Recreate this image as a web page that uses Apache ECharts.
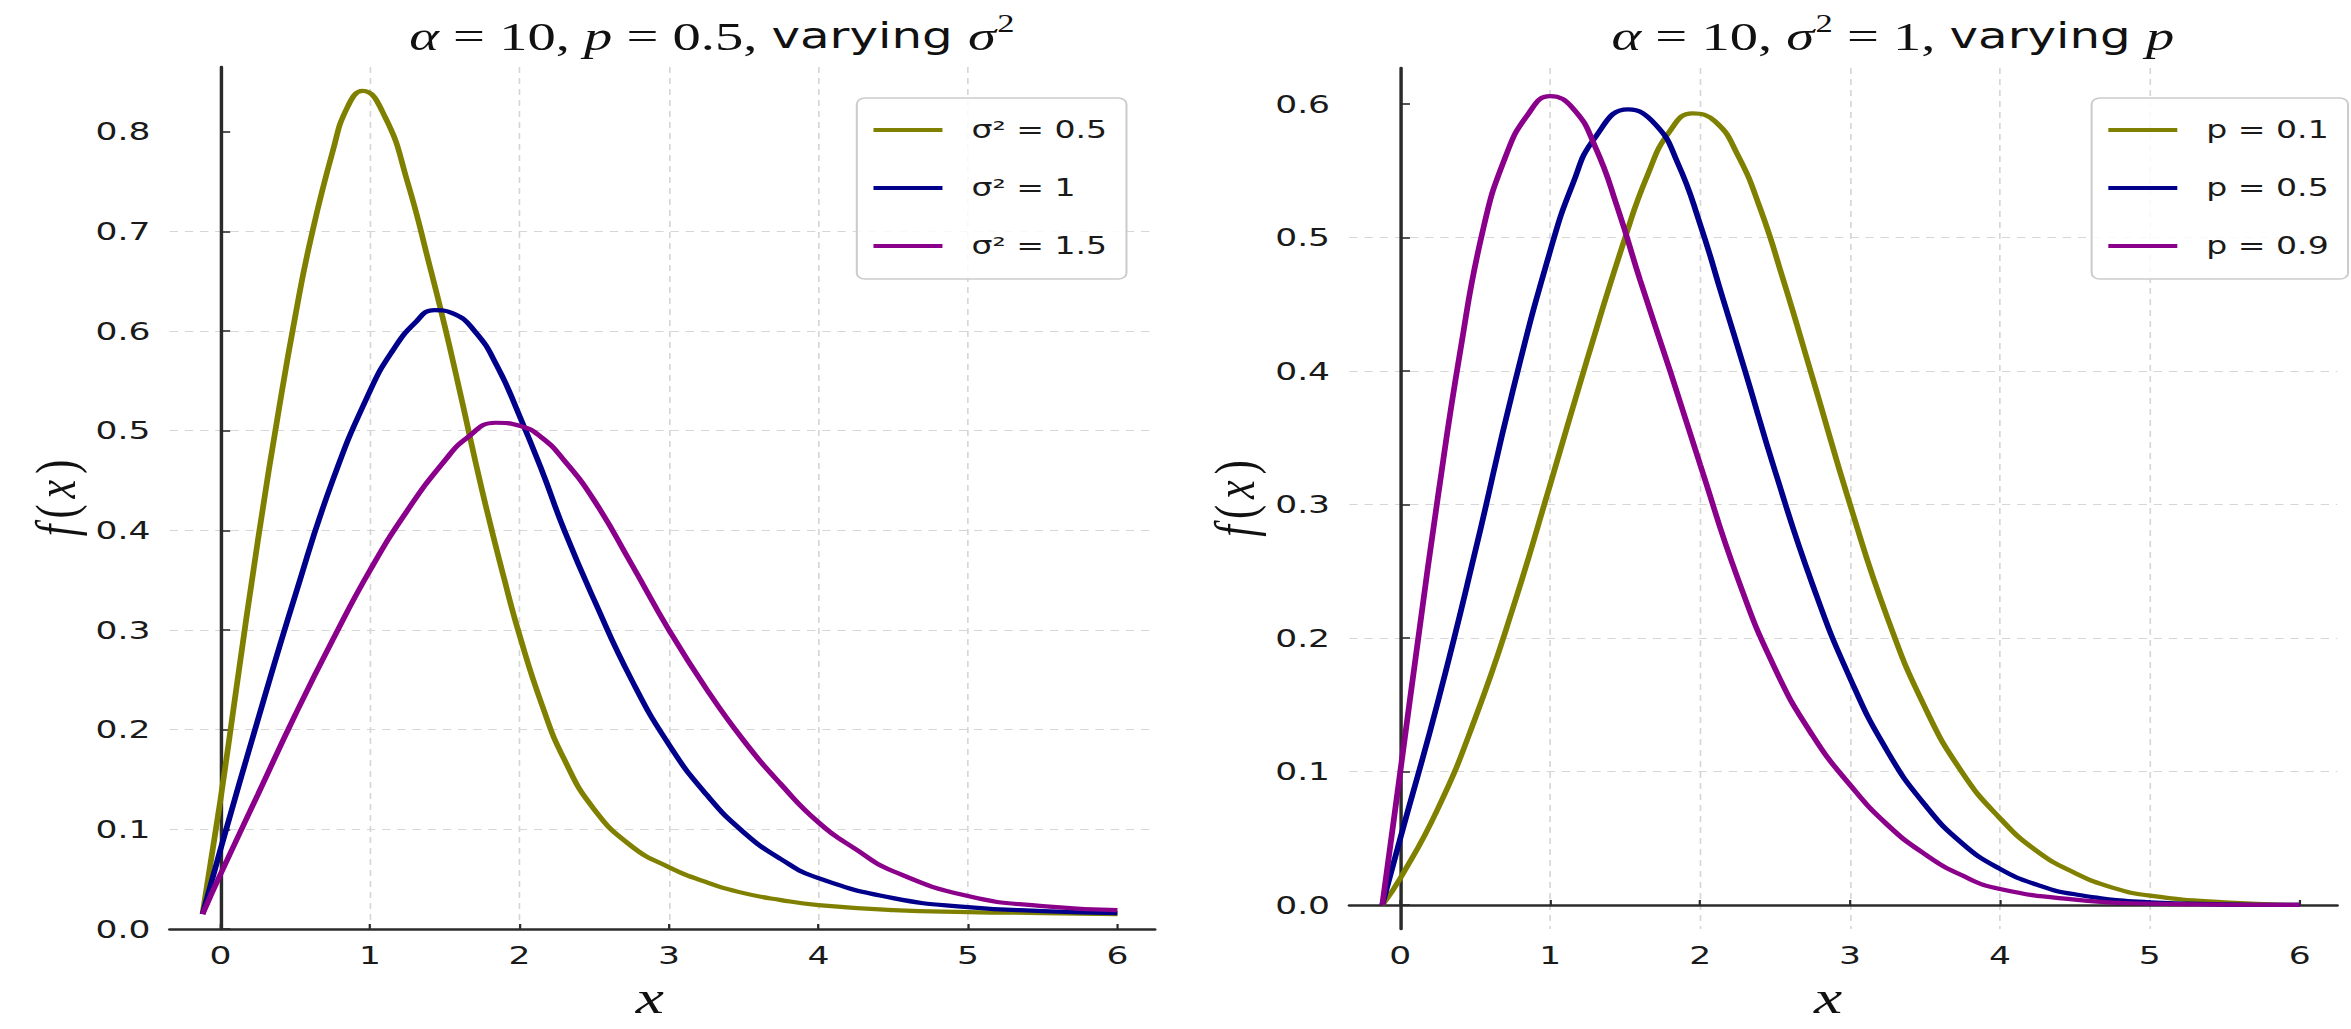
<!DOCTYPE html>
<html>
<head>
<meta charset="utf-8">
<script src="https://cdn.jsdelivr.net/npm/echarts@6/dist/echarts.min.js"></script>
<style>
html, body { margin: 0; padding: 0; background: #fff; overflow: hidden; }
#chart { width: 1704px; height: 1029px; transform-origin: 0 0; transform: scaleX(1.3797); }
</style>
</head>
<body>
<div id="chart"></div>
<script>
// left panel: alpha = 10, p = 0.5, varying sigma^2   ([x, f(x)])
var sigma05 = [[-0.12, 0.015], [0, 0.13], [0.1, 0.235], [0.25, 0.39], [0.4, 0.53], [0.5, 0.615],
    [0.6, 0.69], [0.75, 0.78], [0.85, 0.825], [0.95, 0.841], [1.1, 0.815], [1.25, 0.75], [1.4, 0.665],
    [1.5, 0.605], [1.6, 0.54], [1.75, 0.44], [1.9, 0.35], [2, 0.295], [2.15, 0.225], [2.3, 0.17],
    [2.5, 0.12], [2.75, 0.083], [3, 0.062], [3.25, 0.047], [3.5, 0.036], [3.75, 0.029], [4, 0.024],
    [4.5, 0.019], [5, 0.017], [5.5, 0.016], [6, 0.015]];
var sigma1 = [[-0.12, 0.015], [0, 0.08], [0.25, 0.21], [0.5, 0.335], [0.75, 0.45], [1, 0.54],
    [1.15, 0.58], [1.3, 0.608], [1.43, 0.621], [1.55, 0.618], [1.7, 0.6], [1.85, 0.565], [2, 0.515],
    [2.15, 0.46], [2.3, 0.4], [2.5, 0.33], [2.75, 0.25], [3, 0.185], [3.25, 0.135], [3.5, 0.097],
    [3.75, 0.07], [4, 0.051], [4.5, 0.031], [5, 0.022], [5.5, 0.018], [6, 0.016]];
var sigma15 = [[-0.12, 0.015], [0, 0.055], [0.25, 0.135], [0.5, 0.215], [0.75, 0.29], [1, 0.36],
    [1.25, 0.42], [1.5, 0.47], [1.65, 0.493], [1.84, 0.508], [2, 0.505], [2.15, 0.493], [2.3, 0.47],
    [2.5, 0.43], [2.75, 0.366], [3, 0.3], [3.25, 0.241], [3.5, 0.189], [3.75, 0.145], [4, 0.107],
    [4.25, 0.08], [4.5, 0.058], [5, 0.033], [5.5, 0.023], [6, 0.019]];

// right panel: alpha = 10, sigma^2 = 1, varying p
var p01 = [[-0.12, 0], [0, 0.02], [0.25, 0.072], [0.5, 0.14], [0.75, 0.222], [1, 0.315], [1.25, 0.41],
    [1.5, 0.5], [1.65, 0.547], [1.8, 0.58], [1.95, 0.593], [2.1, 0.587], [2.25, 0.562], [2.4, 0.522],
    [2.55, 0.47], [2.75, 0.395], [3, 0.3], [3.25, 0.215], [3.5, 0.148], [3.75, 0.099], [4, 0.065],
    [4.25, 0.04], [4.5, 0.024], [4.75, 0.013], [5, 0.007], [5.5, 0.002], [6, 0]];
var p05 = [[-0.12, 0], [0, 0.05], [0.25, 0.152], [0.5, 0.265], [0.75, 0.385], [1, 0.49], [1.15, 0.54],
    [1.3, 0.575], [1.52, 0.596], [1.7, 0.585], [1.85, 0.556], [2, 0.51], [2.15, 0.455], [2.3, 0.4],
    [2.5, 0.325], [2.75, 0.24], [3, 0.17], [3.25, 0.115], [3.5, 0.075], [3.75, 0.046], [4, 0.027],
    [4.25, 0.015], [4.5, 0.008], [5, 0.002], [5.5, 0.0005], [6, 0]];
var p09 = [[-0.12, 0], [0, 0.1], [0.12, 0.2], [0.25, 0.305], [0.4, 0.415], [0.55, 0.505], [0.7, 0.56],
    [0.85, 0.592], [1, 0.606], [1.15, 0.597], [1.3, 0.568], [1.45, 0.522], [1.6, 0.468], [1.8, 0.4],
    [2, 0.33], [2.25, 0.245], [2.5, 0.177], [2.75, 0.127], [3, 0.09], [3.25, 0.06], [3.5, 0.038],
    [3.75, 0.022], [4, 0.012], [4.5, 0.004], [5, 0.001], [5.5, 0.0003], [6, 0]];

var xTicks = [0, 1, 2, 3, 4, 5, 6];
var yTicksLeft = [0, 0.1, 0.2, 0.3, 0.4, 0.5, 0.6, 0.7, 0.8];
var yTicksRight = [0, 0.1, 0.2, 0.3, 0.4, 0.5, 0.6];
var namesLeft = ['σ² = 0.5', 'σ² = 1', 'σ² = 1.5'];
var namesRight = ['p = 0.1', 'p = 0.5', 'p = 0.9'];
var colors = ['#808000', '#00008b', '#8b008b'];

var sans = 'DejaVu Sans';
var serif = 'Liberation Serif';
var axisColor = '#2b2b2b';

var mathRich = {
    m: { fontFamily: serif, fontStyle: 'italic', fontSize: 41, lineHeight: 50, color: '#111' },
    n: { fontFamily: serif, fontSize: 41, lineHeight: 50, color: '#111' },
    t: { fontFamily: sans, fontSize: 35, lineHeight: 50, color: '#111' },
    s: { fontFamily: serif, fontSize: 25, lineHeight: 50, verticalAlign: 'top', padding: [0, 0, 0, 1], color: '#111' }
};

var nameRich = {
    i: { fontFamily: serif, fontStyle: 'italic', fontSize: 42, padding: [0, 3], color: '#111' },
    r: { fontFamily: serif, fontSize: 42, padding: [0, 3], color: '#111' }
};

function xAxisFor(gridIndex, shift) {
    return {
        type: 'value', gridIndex: gridIndex, min: -0.34, max: 6.25,
        axisLine: { lineStyle: { color: axisColor, width: 2.5 } },
        axisTick: { inside: true, length: 5, customValues: xTicks, lineStyle: { color: axisColor, width: 1.6 } },
        axisLabel: { customValues: xTicks, margin: 14, fontSize: 25, fontFamily: sans, color: '#1a1a1a' },
        splitLine: { show: true, showMinLine: false, showMaxLine: false,
            lineStyle: { color: '#d6d6d6', width: 1.2, type: [6, 5] } },
        name: 'x', nameLocation: 'middle', nameGap: 46, nameMoveOverlap: false,
        nameTextStyle: { fontFamily: serif, fontStyle: 'italic', fontSize: 46, color: '#111',
            padding: [0, shift, 0, 0] }
    };
}

function yAxisFor(gridIndex, min, max, ticks) {
    var axis = {
        type: 'value', gridIndex: gridIndex, min: min, max: max,
        axisLine: { show: true, lineStyle: { color: axisColor, width: 2.5 } },
        axisTick: { show: true, inside: true, length: 7, customValues: ticks, lineStyle: { color: axisColor, width: 1.6 } },
        axisLabel: { customValues: ticks, margin: 14, fontSize: 25, fontFamily: sans, color: '#1a1a1a',
            formatter: function (v) { return v.toFixed(1); } },
        splitLine: { show: true, showMinLine: false, showMaxLine: false,
            lineStyle: { color: '#d6d6d6', width: 1.2, type: [6, 5] } },
        name: '{i|f}{r|(}{i|x}{r|)}', nameLocation: 'middle', nameGap: 62, nameMoveOverlap: false,
        nameTextStyle: { rich: nameRich }
    };
    if (min === 0) axis.interval = 0.1;
    else axis.splitNumber = 6;
    return axis;
}

function legendFor(left, names) {
    return {
        left: left, top: 98, orient: 'vertical', data: names,
        itemWidth: 50, itemHeight: 14, itemGap: 34,
        padding: [20, 14, 21, 10],
        borderColor: '#cccccc', borderWidth: 1.5, borderRadius: 6,
        backgroundColor: 'rgba(255,255,255,0.85)',
        itemStyle: { opacity: 0 },
        lineStyle: { width: 4.2 },
        textStyle: { fontSize: 24, fontFamily: sans, color: '#1a1a1a', padding: [0, 0, 0, 16] }
    };
}

function curve(name, data, idx, panel) {
    return {
        name: name, type: 'line', data: data, xAxisIndex: panel, yAxisIndex: panel,
        smooth: 0.5, symbol: 'none', showSymbol: false,
        lineStyle: { color: colors[idx], width: 4.2 }, itemStyle: { color: colors[idx] },
        z: 3 + idx
    };
}

var chart = echarts.init(document.getElementById('chart'), null, { renderer: 'svg' });

var option = {
    animation: false,
    backgroundColor: '#ffffff',
    title: [
        { text: '{m|α}{n| = 10, }{m|p}{n| = 0.5, }{t|varying }{m|σ}{s|2}', left: 511, top: 6, textAlign: 'center',
          textStyle: { fontWeight: 'normal', rich: mathRich } },
        { text: '{m|α}{n| = 10, }{m|σ}{s|2}{n| = 1, }{t|varying }{m|p}', left: 1367, top: 6, textAlign: 'center',
          textStyle: { fontWeight: 'normal', rich: mathRich } }
    ],
    grid: [
        { left: 123, top: 67, width: 714, height: 862, outerBoundsMode: 'none' },
        { left: 978, top: 68, width: 716, height: 861, outerBoundsMode: 'none' }
    ],
    xAxis: [xAxisFor(0, 18), xAxisFor(1, 22)],
    yAxis: [yAxisFor(0, 0, 0.865, yTicksLeft), yAxisFor(1, -0.018, 0.627, yTicksRight)],
    legend: [legendFor(621, namesLeft), legendFor(1516, namesRight)],
    series: [
        curve(namesLeft[0], sigma05, 0, 0),
        curve(namesLeft[1], sigma1, 1, 0),
        curve(namesLeft[2], sigma15, 2, 0),
        curve(namesRight[0], p01, 0, 1),
        curve(namesRight[1], p05, 1, 1),
        curve(namesRight[2], p09, 2, 1)
    ]
};

option && chart.setOption(option);
</script>
</body>
</html>
